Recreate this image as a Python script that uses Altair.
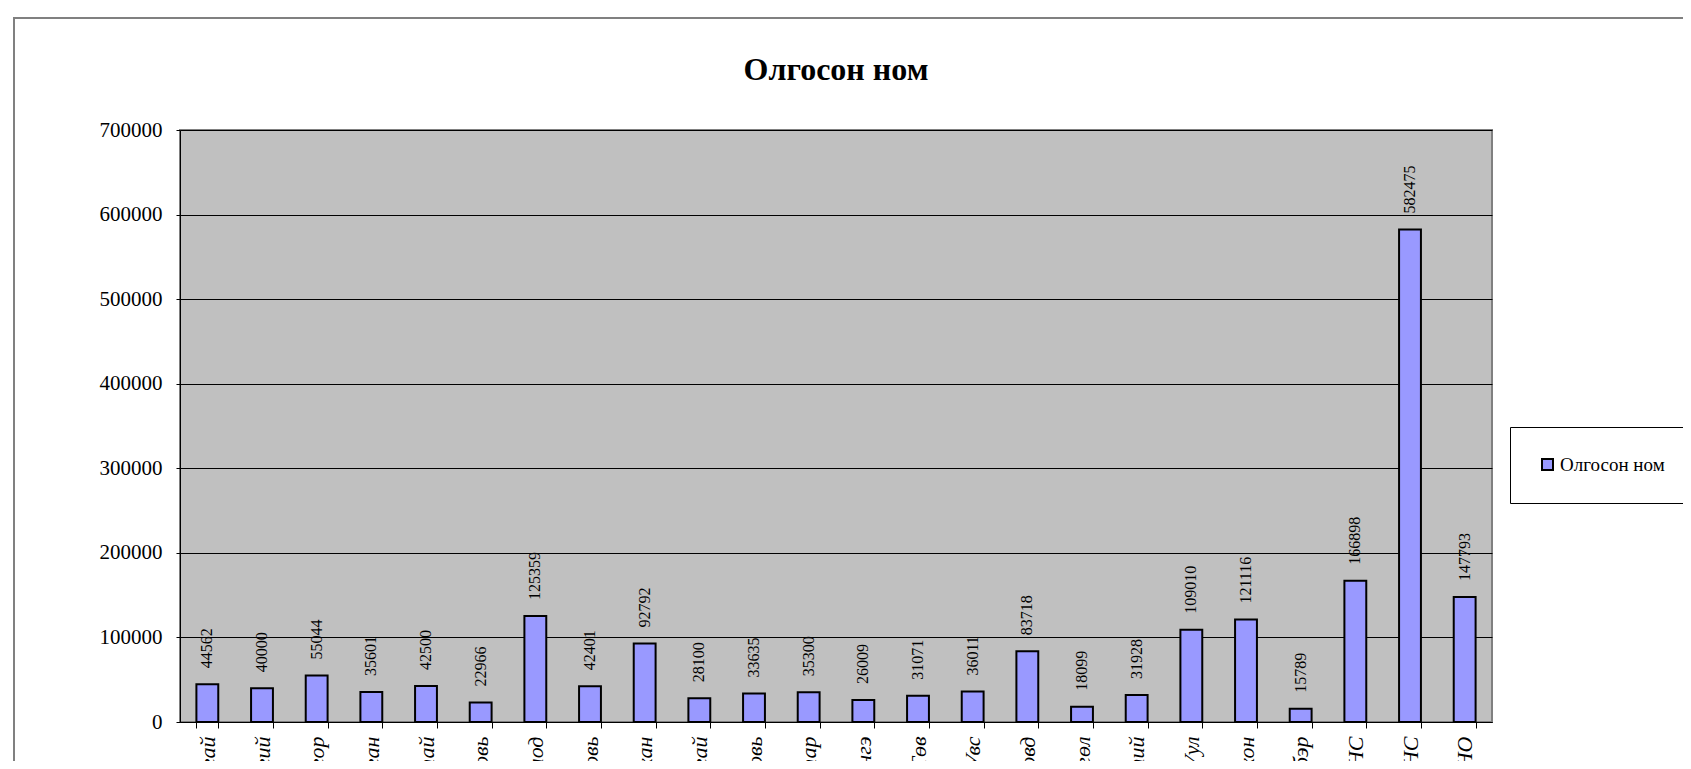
import altair as alt
import pandas as pd

categories = ["Архангай", "Баян-Өлгий", "Баянхонгор", "Булган", "Говь-Алтай",
              "Дорноговь", "Дорнод", "Дундговь", "Завхан", "Өвөрхангай",
              "Өмнөговь", "Сүхбаатар", "Сэлэнгэ", "Төв", "Увс", "Ховд",
              "Хөвсгөл", "Хэнтий", "Дархан-Уул", "Орхон", "Говьсүмбэр",
              "Нийслэлийн НС", "Үндэсний НС", "Бусад НО"]
values = [44562, 40000, 55044, 35601, 42500, 22966, 125359, 42401, 92792, 28100,
          33635, 35300, 26009, 31071, 36011, 83718, 18099, 31928, 109010, 121116,
          15789, 166898, 582475, 147793]
series_name = "Олгосон ном"
y_ticks = [0, 100000, 200000, 300000, 400000, 500000, 600000, 700000]

df = pd.DataFrame({"name": categories, "value": values, "series": series_name})
frame_df = pd.DataFrame({"a": [0]})

FONT = "Liberation Serif"

x_enc = alt.X("name:N", sort=categories, title=None,
              scale=alt.Scale(paddingInner=0.6, paddingOuter=0.3),
              axis=alt.Axis(labelAngle=270, labelFont=FONT, labelFontStyle="italic",
                            labelFontSize=22, labelColor="black", tickBand="extent",
                            tickSize=6, tickColor="black", domainColor="black",
                            labelPadding=8, grid=False, labelOverlap=False))
y_enc = alt.Y("value:Q", title=None,
              scale=alt.Scale(domain=[0, 700000], nice=False),
              axis=alt.Axis(values=y_ticks, format="d", labelFont=FONT,
                            labelFontSize=21, labelColor="black", tickSize=4,
                            tickColor="black", domainColor="black",
                            gridColor="black", gridOpacity=1, gridWidth=1,
                            labelPadding=14))

frame = alt.Chart(frame_df).mark_rect(
    fillOpacity=0, fill="white", stroke="#808080", strokeWidth=2, clip=False
).encode(x=alt.value(-166), x2=alt.value(1700), y=alt.value(-112), y2=alt.value(700))

bars = alt.Chart(df).mark_bar(stroke="black", strokeWidth=2).encode(
    x=x_enc, y=y_enc,
    color=alt.Color("series:N", scale=alt.Scale(range=["#9999ff"]),
                    legend=alt.Legend(title=None, orient="none", legendX=1330, legendY=297,
                                      fillColor="white", strokeColor="black", padding=28,
                                      symbolType="square", symbolSize=121,
                                      symbolStrokeColor="black", symbolStrokeWidth=2,
                                      labelFont=FONT, labelFontSize=19, labelColor="black",
                                      labelOffset=3))
)

labels = alt.Chart(df).mark_text(
    angle=270, align="left", baseline="middle", dx=16, font=FONT, fontSize=16, color="black"
).encode(x=alt.X("name:N", sort=categories), y=alt.Y("value:Q"),
         text=alt.Text("value:Q", format="d"))

chart = alt.layer(frame, bars, labels).properties(
    width=1312, height=592,
    title=alt.Title(series_name, font=FONT, fontSize=32, fontWeight="bold",
                    anchor="middle", color="black", offset=-95, baseline="alphabetic"),
    autosize=alt.AutoSizeParams(type="none"),
    padding={"left": 172, "top": 122, "right": 191, "bottom": 39},
    background="white",
).configure_view(fill="#c0c0c0", stroke="#808080", strokeWidth=2)

chart.save("out.html", embed_options={"renderer": "svg", "actions": False})
